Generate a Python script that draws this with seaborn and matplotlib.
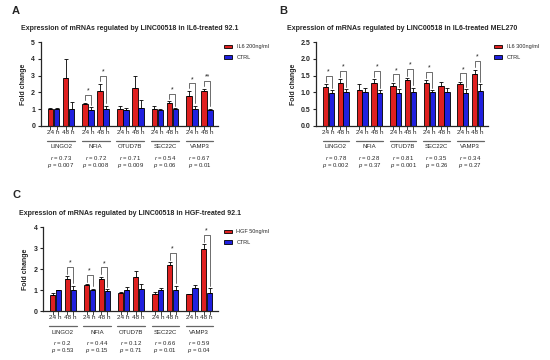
import pandas as pd
import matplotlib.pyplot as plt
import matplotlib.transforms as mtrans
import seaborn as sns

# --Daten--
genes = ["LINGO2", "NFIA", "OTUD7B", "SEC22C", "VAMP3"]
times = ["24 h", "48 h"]

# Reihenfolge: LINGO2 24h, LINGO2 48h, NFIA 24h, ...
a_treat_mean = [1.02, 2.85, 1.34, 2.10, 1.02, 2.25, 1.00, 1.40, 1.78, 2.09]
a_treat_sd = [0.06, 1.16, 0.04, 0.43, 0.20, 0.72, 0.22, 0.07, 0.31, 0.14]
a_ctrl_mean = [1.00, 1.00, 0.97, 1.03, 0.97, 1.08, 0.95, 1.00, 1.03, 0.98]
a_ctrl_sd = [0.10, 0.42, 0.15, 0.18, 0.12, 0.46, 0.08, 0.05, 0.18, 0.05]
a_sig = ["", "", "*", "*", "", "", "", "*", "*", "**"]
a_r = ["0.73", "0.72", "0.71", "0.54", "0.67"]
a_p = ["0.007", "0.008", "0.009", "0.06", "0.01"]

b_treat_mean = [1.17, 1.27, 1.07, 1.27, 1.20, 1.37, 1.27, 1.19, 1.24, 1.54]
b_treat_sd = [0.07, 0.12, 0.17, 0.12, 0.08, 0.06, 0.09, 0.11, 0.07, 0.14]
b_ctrl_mean = [0.99, 1.01, 1.00, 0.98, 0.98, 1.02, 1.00, 1.01, 0.99, 1.05]
b_ctrl_sd = [0.08, 0.08, 0.13, 0.09, 0.11, 0.12, 0.07, 0.13, 0.10, 0.19]
b_sig = ["*", "*", "", "*", "*", "*", "*", "", "*", "*"]
b_r = ["0.78", "0.28", "0.81", "0.35", "0.34"]
b_p = ["0.002", "0.37", "0.001", "0.26", "0.27"]

c_treat_mean = [0.75, 1.52, 1.23, 1.51, 0.86, 1.60, 0.82, 2.18, 0.79, 2.98]
c_treat_sd = [0.12, 0.15, 0.04, 0.12, 0.04, 0.32, 0.10, 0.14, 0.04, 0.21]
c_ctrl_mean = [0.98, 1.02, 1.00, 0.97, 1.00, 1.03, 1.00, 1.02, 1.08, 0.87]
c_ctrl_sd = [0.03, 0.18, 0.06, 0.08, 0.13, 0.26, 0.10, 0.18, 0.16, 0.22]
c_sig = ["", "*", "*", "*", "", "", "", "*", "", "*"]
c_r = ["0.2", "0.44", "0.12", "0.66", "0.59"]
c_p = ["0.53", "0.15", "0.71", "0.01", "0.04"]

# --Stil--
sns.set_style("ticks")
plt.rcParams["font.family"] = ["Liberation Sans", "DejaVu Sans"]
plt.rcParams["mathtext.fontset"] = "custom"
plt.rcParams["mathtext.it"] = "Liberation Sans:italic"
plt.rcParams["mathtext.rm"] = "Liberation Sans"

farben = ["#FF0000", "#0000FF"]
gen_abstand = 2.3


def panel(ax, titel, behandlung, t_mean, t_sd, c_mean, c_sd, sig, r_w, p_w,
          ymax, ystep, yfmt, off):
    zeilen = []
    for gi, gen in enumerate(genes):
        for ti, zeit in enumerate(times):
            k = gi * 2 + ti
            pos = gi * gen_abstand + ti
            zeilen.append(dict(pos=pos, gruppe=behandlung, wert=t_mean[k], sd=t_sd[k], k=k))
            zeilen.append(dict(pos=pos, gruppe="CTRL", wert=c_mean[k], sd=c_sd[k], k=k))
    df = pd.DataFrame(zeilen)

    sns.barplot(data=df, x="pos", y="wert", hue="gruppe", hue_order=[behandlung, "CTRL"],
                palette=farben, native_scale=True, errorbar=None, width=0.8, gap=0.08,
                edgecolor="black", linewidth=0.6, ax=ax)

    mitten = {}
    for lvl, cont in zip([behandlung, "CTRL"], ax.containers):
        sub = df[df["gruppe"] == lvl]
        for bar in cont:
            cx = bar.get_x() + bar.get_width() / 2
            row = sub.iloc[(sub["pos"] - cx).abs().argmin()]
            mitten[(lvl, int(row["k"]))] = (cx, row["wert"] + row["sd"])
            ax.errorbar(cx, row["wert"], yerr=[[0], [row["sd"]]], fmt="none",
                        ecolor="black", elinewidth=0.6, capsize=1.4, capthick=0.6)

    # Signifikanz-Klammern
    for k, s in enumerate(sig):
        if not s:
            continue
        x1, t1 = mitten[(behandlung, k)]
        x2, t2 = mitten[("CTRL", k)]
        top = max(t1, t2) + off
        bein = ymax * 0.03
        ax.plot([x1, x1, x2, x2], [t1 + bein, top, top, t2 + bein],
                color="#555555", lw=0.6, clip_on=False)
        ax.text((x1 + x2) / 2, top + ymax * 0.005, s, ha="center", va="bottom",
                fontsize=5, color="#222222")

    bar_x = sorted(v[0] for v in mitten.values())
    paar_x = [gi * gen_abstand + ti for gi in range(len(genes)) for ti in range(2)]
    ax.set_xticks(bar_x)
    ax.set_xticklabels([""] * len(bar_x))
    ax.set_xticks(paar_x, minor=True)
    ax.set_xticklabels(times * len(genes), minor=True)
    ax.tick_params(axis="x", which="major", length=3, width=0.6)
    ax.tick_params(axis="x", which="minor", length=0, labelsize=4.6, pad=3)
    ax.set_xlim(-0.85, (len(genes) - 1) * gen_abstand + 1 + 0.75)

    ax.set_ylim(0, ymax)
    yt = [i * ystep for i in range(int(round(ymax / ystep)) + 1)]
    ax.set_yticks(yt)
    ax.set_yticklabels([yfmt.format(v) for v in yt], fontweight="bold", fontsize=5)
    ax.tick_params(axis="y", length=2.5, width=0.8, pad=1.5)
    ax.set_ylabel("Fold change", fontsize=5, fontweight="bold", labelpad=3)
    ax.set_xlabel("")
    for sp in ["left", "bottom"]:
        ax.spines[sp].set_linewidth(0.9)
    sns.despine(ax=ax)

    trans = mtrans.blended_transform_factory(ax.transData, ax.transAxes)
    for gi, gen in enumerate(genes):
        x0 = gi * gen_abstand - 0.42
        x1 = gi * gen_abstand + 1 + 0.42
        xm = gi * gen_abstand + 0.5
        ax.plot([x0, x1], [-0.18, -0.18], color="#666666", lw=0.9,
                transform=trans, clip_on=False)
        ax.text(xm, -0.25, gen, transform=trans, ha="center", va="center", fontsize=4.3)
        ax.text(xm, -0.38, "$r$ = " + r_w[gi], transform=trans, ha="center",
                va="center", fontsize=4.3)
        ax.text(xm, -0.465, "$p$ = " + p_w[gi], transform=trans, ha="center",
                va="center", fontsize=4.3)

    ax.set_title(titel, fontsize=5.0, fontweight="bold", pad=9)
    h, l = ax.get_legend_handles_labels()
    ax.legend(h, l, loc="upper left", bbox_to_anchor=(1.02, 1.0), frameon=False,
              fontsize=4.0, handlelength=1.5, handleheight=0.6, labelspacing=1.0,
              handletextpad=0.8, borderaxespad=0)


fig = plt.figure(figsize=(5.5, 3.6), dpi=100)

ax_a = fig.add_axes([0.074, 0.650, 0.323, 0.233])
panel(ax_a, "Expression of mRNAs regulated by LINC00518 in IL6-treated 92.1",
      "IL6 200ng/ml", a_treat_mean, a_treat_sd, a_ctrl_mean, a_ctrl_sd, a_sig, a_r, a_p,
      5, 1, "{:.0f}", 0.45)

ax_b = fig.add_axes([0.575, 0.650, 0.313, 0.233])
panel(ax_b, "Expression of mRNAs regulated by LINC00518 in IL6-treated MEL270",
      "IL6 300ng/ml", b_treat_mean, b_treat_sd, b_ctrl_mean, b_ctrl_sd, b_sig, b_r, b_p,
      2.5, 0.5, "{:.1f}", 0.26)

ax_c = fig.add_axes([0.078, 0.136, 0.318, 0.233])
panel(ax_c, "Expression of mRNAs regulated by LINC00518 in HGF-treated 92.1",
      "HGF 50ng/ml", c_treat_mean, c_treat_sd, c_ctrl_mean, c_ctrl_sd, c_sig, c_r, c_p,
      4, 1, "{:.0f}", 0.45)

fig.text(12 / 550, 1 - 11 / 360, "A", fontsize=8, fontweight="bold", va="center")
fig.text(279 / 550, 1 - 11 / 360, "B", fontsize=8, fontweight="bold", va="center")
fig.text(12 / 550, 1 - 195 / 360, "C", fontsize=8, fontweight="bold", va="center")

fig.savefig("out.png", dpi=100)
plt.close(fig)
